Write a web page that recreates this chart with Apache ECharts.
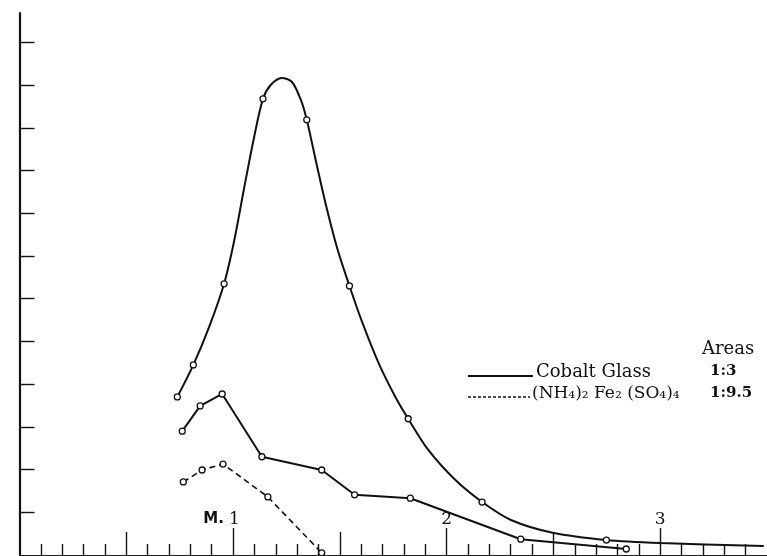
<!DOCTYPE html>
<html>
<head>
<meta charset="utf-8">
<script src="https://cdn.jsdelivr.net/npm/echarts@6/dist/echarts.min.js"></script>
<style>
  html, body { margin: 0; padding: 0; background: #fff; }
  #main { width: 767px; height: 556px; }
</style>
</head>
<body>
<div id="main"></div>
<script>
// upper curve (Cobalt Glass)
var cobaltCurveX = [0.739, 0.814, 0.888, 0.958, 1.005, 1.051, 1.098, 1.140, 1.177, 1.228, 1.275, 1.317, 1.345, 1.392, 1.438, 1.490, 1.545, 1.601, 1.681, 1.760, 1.820, 1.914, 2.040, 2.166, 2.301, 2.497, 2.748, 3.000, 3.485]
var cobaltCurveY = [3.70, 4.45, 5.34, 6.35, 7.35, 8.57, 9.77, 10.68, 11.01, 11.17, 11.08, 10.66, 10.19, 9.13, 8.13, 7.14, 6.30, 5.50, 4.50, 3.70, 3.19, 2.46, 1.76, 1.24, 0.82, 0.52, 0.35, 0.28, 0.21]
// measured points (circles) on the upper curve
var cobaltPointsX = [0.739, 0.814, 0.958, 1.140, 1.345, 1.545, 1.820, 2.166, 2.748]
var cobaltPointsY = [3.70, 4.45, 6.35, 10.68, 10.19, 6.30, 3.19, 1.24, 0.35]

// lower solid polyline
var lowerX = [0.762, 0.846, 0.949, 1.135, 1.415, 1.569, 1.830, 2.347, 2.841]
var lowerY = [2.90, 3.49, 3.77, 2.30, 1.99, 1.41, 1.33, 0.37, 0.14]

// dashed: (NH4)2 Fe2 (SO4)4
var ferrousX = [0.767, 0.855, 0.953, 1.163, 1.415]
var ferrousY = [1.71, 1.99, 2.13, 1.36, 0.05]

var midTicks = [0.5, 1.5, 2.5]
var majorTicks = [1, 2, 3]
var yTicks = [1, 2, 3, 4, 5, 6, 7, 8, 9, 10, 11, 12]

function pairs(xs, ys) {
  return xs.map(function (x, i) { return [x, ys[i]] })
}

var myChart = echarts.init(document.getElementById('main'), null, { renderer: 'canvas' })

var serif = 'DejaVu Serif'
var xCommon = {
  type: 'value',
  gridIndex: 0,
  position: 'bottom',
  offset: 0,
  min: 0,
  max: 3.5,
  interval: 0.5,
  splitLine: { show: false },
  minorSplitLine: { show: false }
}

var option = {
  backgroundColor: '#ffffff',
  animation: false,
  grid: { left: 19.5, top: 13, width: 751, height: 542 },
  xAxis: [
    Object.assign({}, xCommon, {
      axisLine: { show: true, lineStyle: { color: '#222', width: 1 } },
      axisTick: { show: false, inside: true },
      minorTick: { show: true, splitNumber: 5, length: 11, lineStyle: { color: '#111', width: 1.4 } },
      axisLabel: { show: false }
    }),
    Object.assign({}, xCommon, {
      axisLine: { show: false },
      axisTick: { show: true, inside: true, length: 23, customValues: midTicks, lineStyle: { color: '#111', width: 1.4 } },
      axisLabel: { show: false }
    }),
    Object.assign({}, xCommon, {
      interval: 1,
      axisLine: { show: false },
      axisTick: { show: true, inside: true, length: 27, customValues: majorTicks, lineStyle: { color: '#111', width: 1.4 } },
      axisLabel: {
        show: true,
        inside: true,
        margin: 27,
        customValues: majorTicks,
        color: '#111',
        fontFamily: serif,
        fontSize: 17,
        formatter: function (v) {
          return v === 1 ? '{m|M. }1{p|}' : String(v)
        },
        rich: {
          m: { fontFamily: 'DejaVu Sans', fontSize: 15, color: '#111', fontWeight: 'bold' },
          p: { width: 23 }
        }
      }
    })
  ],
  yAxis: {
    type: 'value',
    min: 0,
    max: 12.69,
    interval: 1,
    offset: 4,
    axisLine: { show: true, lineStyle: { color: '#111', width: 2.2 } },
    axisTick: { show: true, inside: true, length: 15, customValues: yTicks, lineStyle: { color: '#111', width: 1.4 } },
    axisLabel: { show: false },
    splitLine: { show: false }
  },
  series: [
    {
      name: 'Cobalt Glass',
      type: 'line',
      smooth: 0.3,
      showSymbol: false,
      data: pairs(cobaltCurveX, cobaltCurveY),
      lineStyle: { color: '#111', width: 2 },
      z: 2
    },
    {
      name: 'Cobalt Glass points',
      type: 'scatter',
      symbol: 'circle',
      symbolSize: 6,
      data: pairs(cobaltPointsX, cobaltPointsY),
      itemStyle: { color: '#fff', borderColor: '#111', borderWidth: 1.3, opacity: 1 },
      z: 5
    },
    {
      name: 'lower',
      type: 'line',
      symbol: 'circle',
      symbolSize: 6,
      showAllSymbol: true,
      data: pairs(lowerX, lowerY),
      lineStyle: { color: '#111', width: 2 },
      itemStyle: { color: '#fff', borderColor: '#111', borderWidth: 1.3 },
      z: 3
    },
    {
      name: '(NH4)2 Fe2 (SO4)4',
      type: 'line',
      symbol: 'circle',
      symbolSize: 6,
      showAllSymbol: true,
      data: pairs(ferrousX, ferrousY),
      lineStyle: { color: '#111', width: 1.6, type: [6, 4] },
      itemStyle: { color: '#fff', borderColor: '#111', borderWidth: 1.3 },
      z: 3
    }
  ],
  graphic: [
    { type: 'text', left: 702, top: 340, style: { text: 'Areas', font: '18px "DejaVu Serif"', fill: '#111' } },
    { type: 'line', shape: { x1: 468, y1: 376, x2: 533, y2: 376 }, style: { stroke: '#111', lineWidth: 2 } },
    { type: 'text', left: 536, top: 363, style: { text: 'Cobalt Glass', font: '18px "DejaVu Serif"', fill: '#111' } },
    { type: 'text', left: 710, top: 364, style: { text: '1:3', font: 'bold 15px "DejaVu Serif"', fill: '#111' } },
    { type: 'line', shape: { x1: 468, y1: 397, x2: 530, y2: 397 }, style: { stroke: '#111', lineWidth: 1.5, lineDash: [3, 2] } },
    { type: 'text', left: 532, top: 385, style: { text: '(NH\u2084)\u2082 Fe\u2082 (SO\u2084)\u2084', font: '17px "DejaVu Serif"', fill: '#111' } },
    { type: 'text', left: 710, top: 386, style: { text: '1:9.5', font: 'bold 15px "DejaVu Serif"', fill: '#111' } }
  ]
}

myChart.setOption(option)
</script>
</body>
</html>
